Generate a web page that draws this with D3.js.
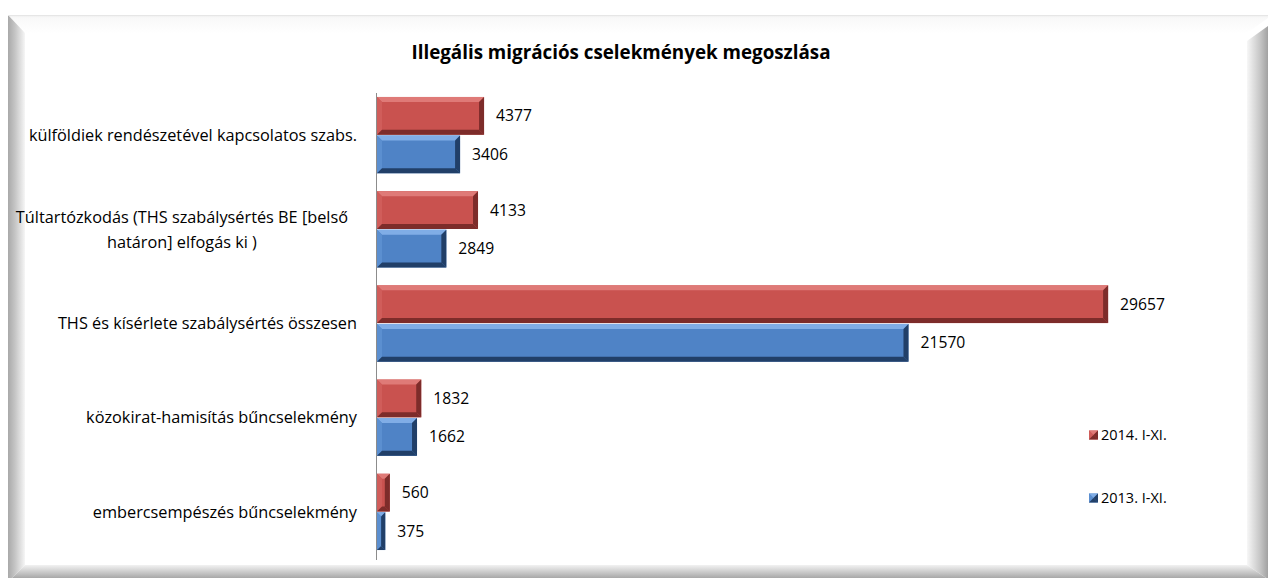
<!DOCTYPE html>
<html>
<head>
<meta charset="utf-8">
<script src="https://cdn.jsdelivr.net/npm/d3@7"></script>
<style>
  body { margin: 0; background: #fff; }
  text { font-family: "Open Sans", Lato, sans-serif; fill: #000; }
</style>
</head>
<body>
<div id="chart"></div>
<script>
// adatok
var categories = [
  ['külföldiek rendészetével kapcsolatos szabs.'],
  ['Túltartózkodás (THS szabálysértés BE [belső', 'határon] elfogás ki )'],
  ['THS és kísérlete szabálysértés összesen'],
  ['közokirat-hamisítás bűncselekmény'],
  ['embercsempészés bűncselekmény']
]
var values2014 = [4377, 4133, 29657, 1832, 560]
var values2013 = [3406, 2849, 21570, 1662, 375]
var seriesNames = ['2014. I-XI.', '2013. I-XI.']
var titleText = 'Illegális migrációs cselekmények megoszlása'

var width = 1268
var height = 578

// szín: alap, világos, oldal, sötét
var palette = [
  { base: '#c9524f', light: '#df7a77', side: '#d05d5a', dark: '#7d2c2a' },
  { base: '#4f83c6', light: '#80ade6', side: '#5b8fd0', dark: '#213f68' }
]

var svg = d3.select('#chart')
  .append('svg')
  .attr('width', width)
  .attr('height', height)

/**
 * keret (bevel)
 */
var defs = svg.append('defs')
function grad(id, x1, y1, x2, y2, stops) {
  var g = defs.append('linearGradient').attr('id', id)
    .attr('x1', x1).attr('y1', y1).attr('x2', x2).attr('y2', y2)
  stops.forEach(s => g.append('stop').attr('offset', s[0]).attr('stop-color', s[1]))
}
grad('gLeft', 0, 0, 1, 0, [[0, '#a9a9a9'], [0.4, '#c4c4c4'], [1, '#f6f6f6']])
grad('gRight', 0, 0, 1, 0, [[0, '#f7f7f7'], [0.5, '#c8c8c8'], [1, '#8f8f8f']])
grad('gBottom', 0, 0, 0, 1, [[0, '#f2f2f2'], [0.5, '#c2c2c2'], [1, '#909090']])
grad('gTop', 0, 0, 0, 1, [[0, '#ececec'], [0.15, '#f8f8f8'], [1, '#ffffff']])

var fo = { x0: 8, y0: 15, x1: 1272, y1: 582 }
var fi = { x0: 25, y0: 33, x1: 1247, y1: 565 }
var frame = svg.append('g')
frame.append('polygon')
  .attr('points', [[fo.x0, fo.y0], [fo.x1, fo.y0], [fi.x1, fi.y0], [fi.x0, fi.y0]].join(' '))
  .attr('fill', 'url(#gTop)')
frame.append('polygon')
  .attr('points', [[fo.x0, fo.y0], [fi.x0, fi.y0], [fi.x0, fi.y1], [fo.x0, fo.y1]].join(' '))
  .attr('fill', 'url(#gLeft)')
frame.append('polygon')
  .attr('points', [[fo.x1, fo.y0 + 8], [fo.x1, fo.y1], [fi.x1, fi.y1], [fi.x1, fi.y0 + 8]].join(' '))
  .attr('fill', 'url(#gRight)')
frame.append('polygon')
  .attr('points', [[fo.x0, fo.y1], [fi.x0, fi.y1], [fi.x1, fi.y1], [fo.x1, fo.y1]].join(' '))
  .attr('fill', 'url(#gBottom)')
frame.append('line')
  .attr('x1', fo.x0).attr('x2', fo.x1).attr('y1', fo.y0 + 0.5).attr('y2', fo.y0 + 0.5)
  .attr('stroke', '#e6e6e6')

/**
 * cím
 */
svg.append('text')
  .attr('x', 621)
  .attr('y', 59)
  .attr('text-anchor', 'middle')
  .attr('font-size', '18.8px')
  .attr('font-weight', 'bold')
  .text(titleText)

/**
 * skálák
 */
var y = d3.scaleBand()
  .domain(d3.range(categories.length))
  .range([88, 559])
  .paddingInner(0.19)
  .paddingOuter(0.095)

var ySeries = d3.scaleBand()
  .domain([0, 1])
  .range([0, y.bandwidth()])
  .paddingInner(0.02)

var x = d3.scaleLinear()
  .domain([0, 35000])
  .range([376, 1240])

// tengely
svg.append('line')
  .attr('x1', x(0) + 0.5).attr('x2', x(0) + 0.5)
  .attr('y1', 93).attr('y2', 560)
  .attr('stroke', '#8c8c8c')

/**
 * kategória feliratok
 */
var labels = svg.append('g')
categories.forEach((lines, i) => {
  var cy = y(i) + y.bandwidth() / 2
  var lh = 25
  var t = labels.append('text')
    .attr('font-size', '16.3px')
  lines.forEach((l, j) => {
    t.append('tspan')
      .attr('y', cy + (j - (lines.length - 1) / 2) * lh)
      .attr('dy', '0.35em')
      .text(l)
  })
  var widths = t.selectAll('tspan').nodes().map(n => n.getComputedTextLength())
  var maxW = d3.max(widths)
  var right = lines.length > 1 ? 348 : 357
  t.selectAll('tspan')
    .attr('x', right - maxW / 2)
    .attr('text-anchor', 'middle')
})

/**
 * oszlopok domború éllel
 */
function bevelBar(g, x0, y0, w, h, c) {
  var b = Math.min(5, w / 2, h / 2)
  g.append('rect')
    .attr('x', x0).attr('y', y0).attr('width', w).attr('height', h)
    .attr('fill', c.base)
  var polys = [
    [[[x0, y0], [x0 + w, y0], [x0 + w - b, y0 + b], [x0 + b, y0 + b]], c.light],
    [[[x0, y0], [x0 + b, y0 + b], [x0 + b, y0 + h - b], [x0, y0 + h]], c.side],
    [[[x0 + w, y0], [x0 + w, y0 + h], [x0 + w - b, y0 + h - b], [x0 + w - b, y0 + b]], c.dark],
    [[[x0, y0 + h], [x0 + b, y0 + h - b], [x0 + w - b, y0 + h - b], [x0 + w, y0 + h]], c.dark]
  ]
  polys.forEach(p => {
    g.append('polygon')
      .attr('points', p[0].join(' '))
      .attr('fill', p[1])
  })
}

var seriesValues = [values2014, values2013]
var bars = svg.append('g')
seriesValues.forEach((vals, s) => {
  vals.forEach((v, i) => {
    var y0 = y(i) + ySeries(s)
    var h = ySeries.bandwidth()
    var w = x(v) - x(0)
    var g = bars.append('g')
    bevelBar(g, x(0) + 1, y0, w - 1, h, palette[s])
    g.append('text')
      .attr('x', x(v) + 12)
      .attr('y', y0 + h / 2)
      .attr('dy', '0.35em')
      .attr('font-size', '15.7px')
      .text(v)
  })
})

/**
 * jelmagyarázat
 */
var legendY = [435, 498]
seriesNames.forEach((name, s) => {
  var g = svg.append('g')
  bevelBar(g, 1089, legendY[s] - 4.5, 9, 9, palette[s])
  g.append('text')
    .attr('x', 1101)
    .attr('y', legendY[s])
    .attr('dy', '0.35em')
    .attr('font-size', '14.5px')
    .text(name)
})
</script>
</body>
</html>
